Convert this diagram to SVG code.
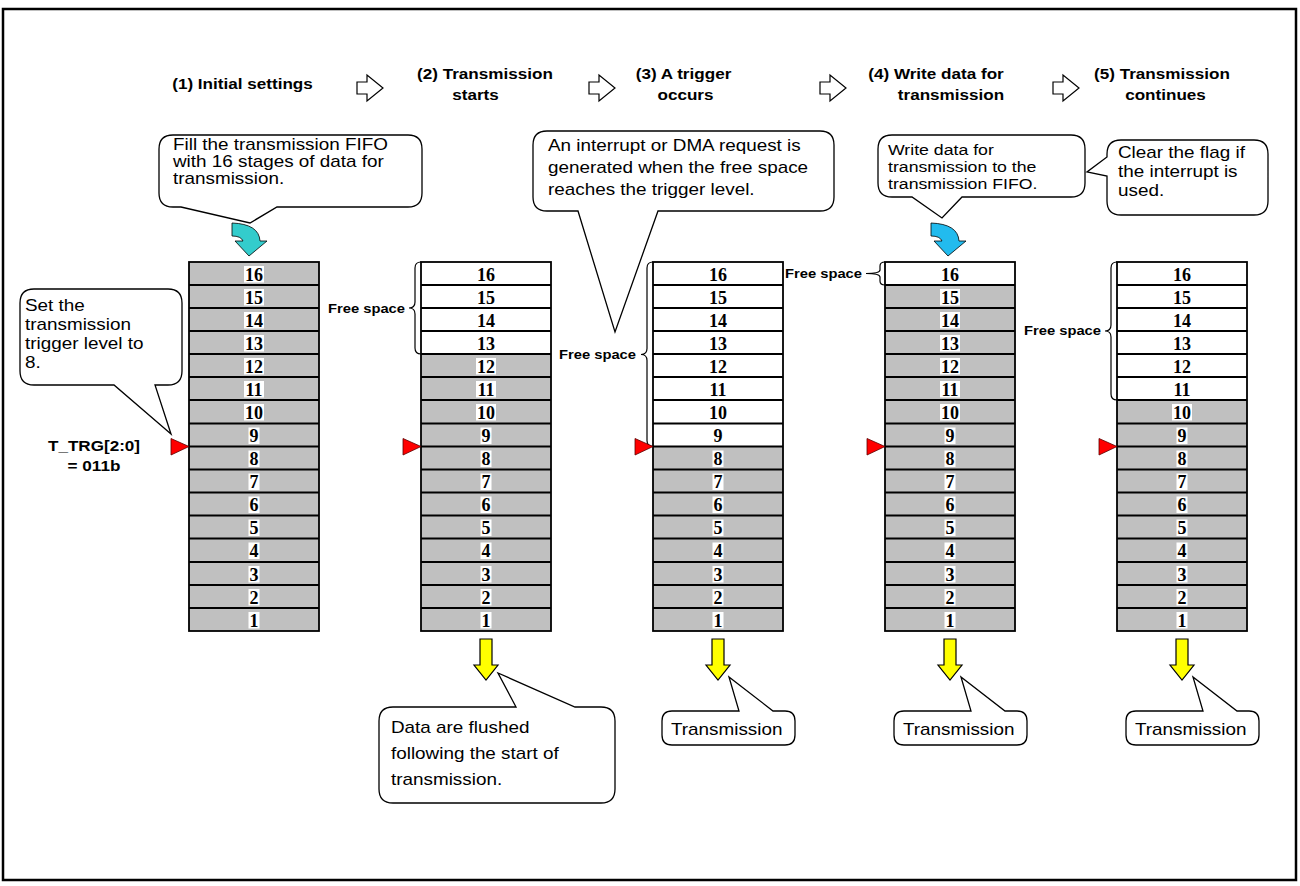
<svg xmlns="http://www.w3.org/2000/svg" width="1300" height="886" viewBox="0 0 1300 886">
<style>
.t{font-family:"Liberation Sans",Arial,sans-serif;font-size:16px;fill:#000}
.t4{font-family:"Liberation Sans",Arial,sans-serif;font-size:15px;fill:#000}
.h{font-family:"Liberation Sans",Arial,sans-serif;font-size:15px;font-weight:bold;text-anchor:middle;fill:#000}
.fs{font-family:"Liberation Sans",Arial,sans-serif;font-size:12.5px;font-weight:bold;text-anchor:end;fill:#000}
.num{font-family:"Liberation Serif","Times New Roman",serif;font-size:18px;font-weight:bold;text-anchor:middle;fill:#000}
.g{fill:#C0C0C0}
.w{fill:#FFFFFF}
.hl{fill:#FFFFFF}
.grid{fill:none;stroke:#000;stroke-width:1.8}
.frame{fill:none;stroke:#000;stroke-width:1.8}
.bubble{fill:#FFFFFF;stroke:#000;stroke-width:1.3}
.brace{fill:none;stroke:#000;stroke-width:1.2}
.harrow{fill:#FFFFFF;stroke:#000;stroke-width:1.2}
.yarrow{fill:#FFFF00;stroke:#000;stroke-width:1.2}
.trg{fill:#FF0000;stroke:#5a0000;stroke-width:0.8}
</style>
<rect x="0" y="0" width="1300" height="886" fill="#FFFFFF"/>
<rect x="3" y="9" width="1293" height="871" fill="none" stroke="#000" stroke-width="2.5"/>

<g id="headers">
<text class="h" transform="translate(242.5,89) scale(1.14,1)">(1) Initial settings</text>
<text class="h" transform="translate(485,79) scale(1.14,1)">(2) Transmission</text>
<text class="h" transform="translate(475.5,100) scale(1.14,1)">starts</text>
<text class="h" transform="translate(683.5,79) scale(1.14,1)">(3) A trigger</text>
<text class="h" transform="translate(685.5,100) scale(1.14,1)">occurs</text>
<text class="h" transform="translate(936,79) scale(1.14,1)">(4) Write data for</text>
<text class="h" transform="translate(951,100) scale(1.14,1)">transmission</text>
<text class="h" transform="translate(1162,79) scale(1.14,1)">(5) Transmission</text>
<text class="h" transform="translate(1165.5,100) scale(1.14,1)">continues</text>
</g>

<g id="connectors">
<path class="harrow" d="M357,82 H367 V75 L383,88 L367,101 V94 H357 Z"/>
<path class="harrow" d="M589,82 H599 V75 L615,88 L599,101 V94 H589 Z"/>
<path class="harrow" d="M820,82 H830 V75 L846,88 L830,101 V94 H820 Z"/>
<path class="harrow" d="M1053,82 H1063 V75 L1079,88 L1063,101 V94 H1053 Z"/>
<path d="M232,223 Q259,224 260,241 L267,241 L249,256 L235,241 L243,241 Q241,236 232,236 Z" fill="#33CCCC" stroke="#000" stroke-width="0.8"/>
<path d="M931,223 Q958,224 959,241 L966,241 L948,256 L934,241 L942,241 Q940,236 931,236 Z" fill="#22BBEE" stroke="#000" stroke-width="0.8"/>
<path class="yarrow" d="M480,639 H492 V665 H498 L486,680 L474,665 H480 Z"/>
<path class="yarrow" d="M712,639 H724 V665 H730 L718,680 L706,665 H712 Z"/>
<path class="yarrow" d="M944,639 H956 V665 H962 L950,680 L938,665 H944 Z"/>
<path class="yarrow" d="M1176,639 H1188 V665 H1194 L1182,680 L1170,665 H1176 Z"/>
</g>

<g id="callout-fill">
<path class="bubble" d="M173,135 H408 Q422,135 422,149 V193 Q422,207 408,207 H277 L250,223 L181,207 H173 Q159,207 159,193 V149 Q159,135 173,135 Z"/>
<text class="t" transform="translate(173,150) scale(1.18,1)">Fill the transmission FIFO</text>
<text class="t" transform="translate(173,167) scale(1.18,1)">with 16 stages of data for</text>
<text class="t" transform="translate(173,184) scale(1.18,1)">transmission.</text>
</g>

<g id="callout-trigger-level">
<path class="bubble" d="M34,289 H168 Q182,289 182,303 V371 Q182,385 168,385 H155 L171,434 L114,385 H34 Q20,385 20,371 V303 Q20,289 34,289 Z"/>
<text class="t" transform="translate(25,311) scale(1.18,1)">Set the</text>
<text class="t" transform="translate(25,330) scale(1.18,1)">transmission</text>
<text class="t" transform="translate(25,349) scale(1.18,1)">trigger level to</text>
<text class="t" transform="translate(25,368) scale(1.18,1)">8.</text>
</g>

<g id="callout-interrupt">
<path class="bubble" d="M547,131 H820 Q834,131 834,145 V197 Q834,211 820,211 H658 L615,332 L578,211 H547 Q533,211 533,197 V145 Q533,131 547,131 Z"/>
<text class="t" transform="translate(548,151) scale(1.18,1)">An interrupt or DMA request is</text>
<text class="t" transform="translate(548,173) scale(1.18,1)">generated when the free space</text>
<text class="t" transform="translate(548,195) scale(1.18,1)">reaches the trigger level.</text>
</g>

<g id="callout-write">
<path class="bubble" d="M892,135 H1071 Q1085,135 1085,149 V183 Q1085,197 1071,197 H962 L942,218 L912,197 H892 Q878,197 878,183 V149 Q878,135 892,135 Z"/>
<text class="t4" transform="translate(888,155) scale(1.18,1)">Write data for</text>
<text class="t4" transform="translate(888,172) scale(1.18,1)">transmission to the</text>
<text class="t4" transform="translate(888,189) scale(1.18,1)">transmission FIFO.</text>
</g>

<g id="callout-clear">
<path class="bubble" d="M1121,140 H1254 Q1268,140 1268,154 V201 Q1268,215 1254,215 H1121 Q1107,215 1107,201 V176 L1087,172 L1107,157 V154 Q1107,140 1121,140 Z"/>
<text class="t" transform="translate(1118,158) scale(1.18,1)">Clear the flag if</text>
<text class="t" transform="translate(1118,177) scale(1.18,1)">the interrupt is</text>
<text class="t" transform="translate(1118,196) scale(1.18,1)">used.</text>
</g>

<g id="callout-flushed">
<path class="bubble" d="M393,707 H516 L498,673 L575,707 H601 Q615,707 615,721 V789 Q615,803 601,803 H393 Q379,803 379,789 V721 Q379,707 393,707 Z"/>
<text class="t" transform="translate(391,733) scale(1.18,1)">Data are flushed</text>
<text class="t" transform="translate(391,759) scale(1.18,1)">following the start of</text>
<text class="t" transform="translate(391,785) scale(1.18,1)">transmission.</text>
</g>

<g id="callout-tx-3">
<path class="bubble" d="M672,711 H739 L729,677 L773,711 H785 Q795,711 795,721 V735 Q795,745 785,745 H672 Q662,745 662,735 V721 Q662,711 672,711 Z"/>
<text class="t" transform="translate(671,735) scale(1.18,1)">Transmission</text>
</g>
<g id="callout-tx-4">
<path class="bubble" d="M904,711 H971 L961,677 L1005,711 H1017 Q1027,711 1027,721 V735 Q1027,745 1017,745 H904 Q894,745 894,735 V721 Q894,711 904,711 Z"/>
<text class="t" transform="translate(903,735) scale(1.18,1)">Transmission</text>
</g>
<g id="callout-tx-5">
<path class="bubble" d="M1136,711 H1203 L1193,677 L1237,711 H1249 Q1259,711 1259,721 V735 Q1259,745 1249,745 H1136 Q1126,745 1126,735 V721 Q1126,711 1136,711 Z"/>
<text class="t" transform="translate(1135,735) scale(1.18,1)">Transmission</text>
</g>

<g id="trg-label">
<text class="h" transform="translate(94,451) scale(1.14,1)">T_TRG[2:0]</text>
<text class="h" transform="translate(94,471) scale(1.14,1)">= 011b</text>
</g>

<g id="fifo-1">
<rect class="g" x="189" y="262" width="130" height="369"/>
<path class="grid" d="M189,285H319M189,308H319M189,331H319M189,354H319M189,377H319M189,400H319M189,423.5H319M189,446.5H319M189,469.5H319M189,492.5H319M189,515.5H319M189,538.5H319M189,562H319M189,585H319M189,608H319"/>
<rect class="frame" x="189" y="262" width="130" height="369"/>
<rect class="hl" x="244" y="266" width="20" height="16.5"/><rect class="hl" x="244" y="289" width="20" height="16.5"/><rect class="hl" x="244" y="312" width="20" height="16.5"/><rect class="hl" x="244" y="335" width="20" height="16.5"/><rect class="hl" x="244" y="358" width="20" height="16.5"/><rect class="hl" x="244" y="381" width="20" height="16.5"/><rect class="hl" x="244" y="404" width="20" height="16.5"/>
<rect class="hl" x="248.5" y="427.5" width="11" height="16.5"/><rect class="hl" x="248.5" y="450.5" width="11" height="16.5"/><rect class="hl" x="248.5" y="473.5" width="11" height="16.5"/><rect class="hl" x="248.5" y="496.5" width="11" height="16.5"/><rect class="hl" x="248.5" y="519.5" width="11" height="16.5"/><rect class="hl" x="248.5" y="542.5" width="11" height="16.5"/><rect class="hl" x="248.5" y="566" width="11" height="16.5"/><rect class="hl" x="248.5" y="589" width="11" height="16.5"/><rect class="hl" x="248.5" y="612" width="11" height="16.5"/>
<text class="num" x="254" y="280.5">16</text><text class="num" x="254" y="303.5">15</text><text class="num" x="254" y="326.5">14</text><text class="num" x="254" y="349.5">13</text><text class="num" x="254" y="372.5">12</text><text class="num" x="254" y="395.5">11</text><text class="num" x="254" y="418.5">10</text><text class="num" x="254" y="442">9</text><text class="num" x="254" y="465">8</text><text class="num" x="254" y="488">7</text><text class="num" x="254" y="511">6</text><text class="num" x="254" y="534">5</text><text class="num" x="254" y="557">4</text><text class="num" x="254" y="580.5">3</text><text class="num" x="254" y="603.5">2</text><text class="num" x="254" y="626.5">1</text>
<path class="trg" d="M171,438.5 L189,446.5 L171,455 Z"/>
</g>

<g id="fifo-2">
<rect class="g" x="421" y="262" width="130" height="369"/>
<rect class="w" x="421" y="262" width="130" height="92"/>
<path class="grid" d="M421,285H551M421,308H551M421,331H551M421,354H551M421,377H551M421,400H551M421,423.5H551M421,446.5H551M421,469.5H551M421,492.5H551M421,515.5H551M421,538.5H551M421,562H551M421,585H551M421,608H551"/>
<rect class="frame" x="421" y="262" width="130" height="369"/>
<rect class="hl" x="476" y="358" width="20" height="16.5"/><rect class="hl" x="476" y="381" width="20" height="16.5"/><rect class="hl" x="476" y="404" width="20" height="16.5"/>
<rect class="hl" x="480.5" y="427.5" width="11" height="16.5"/><rect class="hl" x="480.5" y="450.5" width="11" height="16.5"/><rect class="hl" x="480.5" y="473.5" width="11" height="16.5"/><rect class="hl" x="480.5" y="496.5" width="11" height="16.5"/><rect class="hl" x="480.5" y="519.5" width="11" height="16.5"/><rect class="hl" x="480.5" y="542.5" width="11" height="16.5"/><rect class="hl" x="480.5" y="566" width="11" height="16.5"/><rect class="hl" x="480.5" y="589" width="11" height="16.5"/><rect class="hl" x="480.5" y="612" width="11" height="16.5"/>
<text class="num" x="486" y="280.5">16</text><text class="num" x="486" y="303.5">15</text><text class="num" x="486" y="326.5">14</text><text class="num" x="486" y="349.5">13</text><text class="num" x="486" y="372.5">12</text><text class="num" x="486" y="395.5">11</text><text class="num" x="486" y="418.5">10</text><text class="num" x="486" y="442">9</text><text class="num" x="486" y="465">8</text><text class="num" x="486" y="488">7</text><text class="num" x="486" y="511">6</text><text class="num" x="486" y="534">5</text><text class="num" x="486" y="557">4</text><text class="num" x="486" y="580.5">3</text><text class="num" x="486" y="603.5">2</text><text class="num" x="486" y="626.5">1</text>
<path class="trg" d="M403,438.5 L421,446.5 L403,455 Z"/>
<path class="brace" d="M421,262 Q415,262 415,268 L415,302 Q415,308 409,308 Q415,308 415,314 L415,348 Q415,354 421,354"/>
<text class="fs" transform="translate(405,312.5) scale(1.18,1)">Free space</text>
</g>

<g id="fifo-3">
<rect class="g" x="653" y="262" width="130" height="369"/>
<rect class="w" x="653" y="262" width="130" height="184.5"/>
<path class="grid" d="M653,285H783M653,308H783M653,331H783M653,354H783M653,377H783M653,400H783M653,423.5H783M653,446.5H783M653,469.5H783M653,492.5H783M653,515.5H783M653,538.5H783M653,562H783M653,585H783M653,608H783"/>
<rect class="frame" x="653" y="262" width="130" height="369"/>
<rect class="hl" x="712.5" y="450.5" width="11" height="16.5"/><rect class="hl" x="712.5" y="473.5" width="11" height="16.5"/><rect class="hl" x="712.5" y="496.5" width="11" height="16.5"/><rect class="hl" x="712.5" y="519.5" width="11" height="16.5"/><rect class="hl" x="712.5" y="542.5" width="11" height="16.5"/><rect class="hl" x="712.5" y="566" width="11" height="16.5"/><rect class="hl" x="712.5" y="589" width="11" height="16.5"/><rect class="hl" x="712.5" y="612" width="11" height="16.5"/>
<text class="num" x="718" y="280.5">16</text><text class="num" x="718" y="303.5">15</text><text class="num" x="718" y="326.5">14</text><text class="num" x="718" y="349.5">13</text><text class="num" x="718" y="372.5">12</text><text class="num" x="718" y="395.5">11</text><text class="num" x="718" y="418.5">10</text><text class="num" x="718" y="442">9</text><text class="num" x="718" y="465">8</text><text class="num" x="718" y="488">7</text><text class="num" x="718" y="511">6</text><text class="num" x="718" y="534">5</text><text class="num" x="718" y="557">4</text><text class="num" x="718" y="580.5">3</text><text class="num" x="718" y="603.5">2</text><text class="num" x="718" y="626.5">1</text>
<path class="brace" d="M653,262 Q647,262 647,268 L647,348.5 Q647,354.5 641,354.5 Q647,354.5 647,360.5 L647,440.5 Q647,446.5 653,446.5"/>
<path class="trg" d="M635,438.5 L653,446.5 L635,455 Z"/>
<text class="fs" transform="translate(636,358.5) scale(1.18,1)">Free space</text>
</g>

<g id="fifo-4">
<rect class="g" x="885" y="262" width="130" height="369"/>
<rect class="w" x="885" y="262" width="130" height="23"/>
<path class="grid" d="M885,285H1015M885,308H1015M885,331H1015M885,354H1015M885,377H1015M885,400H1015M885,423.5H1015M885,446.5H1015M885,469.5H1015M885,492.5H1015M885,515.5H1015M885,538.5H1015M885,562H1015M885,585H1015M885,608H1015"/>
<rect class="frame" x="885" y="262" width="130" height="369"/>
<rect class="hl" x="940" y="289" width="20" height="16.5"/><rect class="hl" x="940" y="312" width="20" height="16.5"/><rect class="hl" x="940" y="335" width="20" height="16.5"/><rect class="hl" x="940" y="358" width="20" height="16.5"/><rect class="hl" x="940" y="381" width="20" height="16.5"/><rect class="hl" x="940" y="404" width="20" height="16.5"/>
<rect class="hl" x="944.5" y="427.5" width="11" height="16.5"/><rect class="hl" x="944.5" y="450.5" width="11" height="16.5"/><rect class="hl" x="944.5" y="473.5" width="11" height="16.5"/><rect class="hl" x="944.5" y="496.5" width="11" height="16.5"/><rect class="hl" x="944.5" y="519.5" width="11" height="16.5"/><rect class="hl" x="944.5" y="542.5" width="11" height="16.5"/><rect class="hl" x="944.5" y="566" width="11" height="16.5"/><rect class="hl" x="944.5" y="589" width="11" height="16.5"/><rect class="hl" x="944.5" y="612" width="11" height="16.5"/>
<text class="num" x="950" y="280.5">16</text><text class="num" x="950" y="303.5">15</text><text class="num" x="950" y="326.5">14</text><text class="num" x="950" y="349.5">13</text><text class="num" x="950" y="372.5">12</text><text class="num" x="950" y="395.5">11</text><text class="num" x="950" y="418.5">10</text><text class="num" x="950" y="442">9</text><text class="num" x="950" y="465">8</text><text class="num" x="950" y="488">7</text><text class="num" x="950" y="511">6</text><text class="num" x="950" y="534">5</text><text class="num" x="950" y="557">4</text><text class="num" x="950" y="580.5">3</text><text class="num" x="950" y="603.5">2</text><text class="num" x="950" y="626.5">1</text>
<path class="trg" d="M867,438.5 L885,446.5 L867,455 Z"/>
<path class="brace" d="M885,262 Q880,262 880,266 L880,270 Q880,273.5 866,273.5 Q880,273.5 880,277 L880,281 Q880,285 885,285"/>
<text class="fs" transform="translate(862,278) scale(1.18,1)">Free space</text>
</g>

<g id="fifo-5">
<rect class="g" x="1117" y="262" width="130" height="369"/>
<rect class="w" x="1117" y="262" width="130" height="138"/>
<path class="grid" d="M1117,285H1247M1117,308H1247M1117,331H1247M1117,354H1247M1117,377H1247M1117,400H1247M1117,423.5H1247M1117,446.5H1247M1117,469.5H1247M1117,492.5H1247M1117,515.5H1247M1117,538.5H1247M1117,562H1247M1117,585H1247M1117,608H1247"/>
<rect class="frame" x="1117" y="262" width="130" height="369"/>
<rect class="hl" x="1172" y="404" width="20" height="16.5"/>
<rect class="hl" x="1176.5" y="427.5" width="11" height="16.5"/><rect class="hl" x="1176.5" y="450.5" width="11" height="16.5"/><rect class="hl" x="1176.5" y="473.5" width="11" height="16.5"/><rect class="hl" x="1176.5" y="496.5" width="11" height="16.5"/><rect class="hl" x="1176.5" y="519.5" width="11" height="16.5"/><rect class="hl" x="1176.5" y="542.5" width="11" height="16.5"/><rect class="hl" x="1176.5" y="566" width="11" height="16.5"/><rect class="hl" x="1176.5" y="589" width="11" height="16.5"/><rect class="hl" x="1176.5" y="612" width="11" height="16.5"/>
<text class="num" x="1182" y="280.5">16</text><text class="num" x="1182" y="303.5">15</text><text class="num" x="1182" y="326.5">14</text><text class="num" x="1182" y="349.5">13</text><text class="num" x="1182" y="372.5">12</text><text class="num" x="1182" y="395.5">11</text><text class="num" x="1182" y="418.5">10</text><text class="num" x="1182" y="442">9</text><text class="num" x="1182" y="465">8</text><text class="num" x="1182" y="488">7</text><text class="num" x="1182" y="511">6</text><text class="num" x="1182" y="534">5</text><text class="num" x="1182" y="557">4</text><text class="num" x="1182" y="580.5">3</text><text class="num" x="1182" y="603.5">2</text><text class="num" x="1182" y="626.5">1</text>
<path class="trg" d="M1099,438.5 L1117,446.5 L1099,455 Z"/>
<path class="brace" d="M1117,262 Q1111,262 1111,268 L1111,325 Q1111,331 1105,331 Q1111,331 1111,337 L1111,394 Q1111,400 1117,400"/>
<text class="fs" transform="translate(1101,335) scale(1.18,1)">Free space</text>
</g>
</svg>
